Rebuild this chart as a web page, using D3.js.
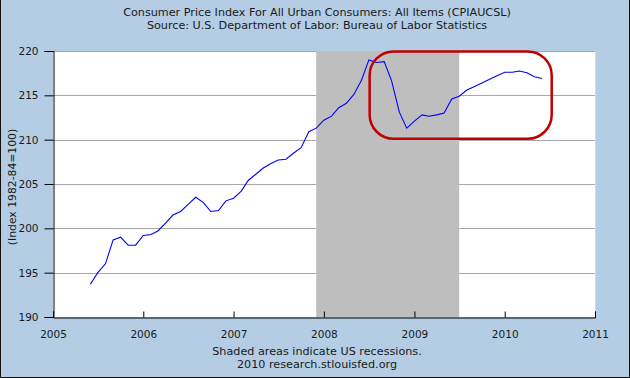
<!DOCTYPE html>
<html>
<head>
<meta charset="utf-8">
<script src="https://cdn.jsdelivr.net/npm/d3@7"></script>
<style>
  html, body { margin: 0; padding: 0; background: #B4CDE4; }
  svg { display: block; }
  text { font-family: "DejaVu Sans", Verdana, sans-serif; fill: #1a1a1a; }
</style>
</head>
<body>
<svg id="chart" width="630" height="378"></svg>
<script>
// ---- data ----
const titleLines = [
  "Consumer Price Index For All Urban Consumers: All Items (CPIAUCSL)",
  "Source: U.S. Department of Labor: Bureau of Labor Statistics"
];
const footerLines = [
  "Shaded areas indicate US recessions.",
  "2010 research.stlouisfed.org"
];
const yAxisLabel = "(Index 1982-84=100)";
const startMonth = "2005-06"; // first monthly observation
const cpiValues = [
  193.7, 195.0, 196.0, 198.7, 199.0, 198.1, 198.1, 199.2, 199.3, 199.7,
  200.6, 201.5, 201.9, 202.7, 203.5, 202.9, 201.9, 202.0, 203.1, 203.4,
  204.2, 205.4, 206.1, 206.8, 207.3, 207.7, 207.8, 208.5, 209.1, 210.9,
  211.3, 212.2, 212.65, 213.6, 214.1, 215.1, 216.7, 219.0, 218.7, 218.8,
  216.6, 213.1, 211.3, 212.1, 212.8, 212.65, 212.8, 213.0, 214.6, 214.9,
  215.6, 216.0, 216.4, 216.8, 217.2, 217.6, 217.6, 217.75, 217.55, 217.1,
  216.9
];
const recessions = [["2007-12-01", "2009-07-01"]];
const xTickYears = [2005, 2006, 2007, 2008, 2009, 2010, 2011];
const yTicks = [190, 195, 200, 205, 210, 215, 220];
// annotation box (in data units: date, index value)
const highlightBox = { from: "2008-07-04", to: "2010-07-10", top: 219.95, bottom: 210.1 };

// ---- chart ----
const W = 630, H = 378;
const M = { left: 53, right: 35, top: 51, bottom: 61 };
const svg = d3.select("#chart");
const parse = d3.timeParse("%Y-%m-%d");
const start = d3.timeParse("%Y-%m")(startMonth);
const data = cpiValues.map((v, i) => ({ date: d3.timeMonth.offset(start, i), value: v }));

const x = d3.scaleTime()
  .domain([new Date(2005, 0, 1), new Date(2011, 0, 1)])
  .range([M.left, W - M.right]);
const y = d3.scaleLinear()
  .domain([190, 220])
  .range([H - M.bottom, M.top]);

// background
svg.append("rect").attr("x", 0).attr("y", 0).attr("width", W).attr("height", H).attr("fill", "#B4CDE4");

// plot area
svg.append("rect")
  .attr("x", M.left).attr("y", M.top)
  .attr("width", W - M.left - M.right).attr("height", H - M.top - M.bottom)
  .attr("fill", "#ffffff");

// gridlines
svg.append("g").selectAll("line").data(yTicks.filter(d => d !== 190)).join("line")
  .attr("x1", M.left).attr("x2", W - M.right)
  .attr("y1", d => Math.round(y(d)) + 0.5).attr("y2", d => Math.round(y(d)) + 0.5)
  .attr("stroke", "#A8A8A8").attr("stroke-width", 1);

// recession shading
svg.append("g").selectAll("rect").data(recessions).join("rect")
  .attr("x", d => x(parse(d[0])))
  .attr("width", d => x(parse(d[1])) - x(parse(d[0])))
  .attr("y", M.top).attr("height", H - M.top - M.bottom)
  .attr("fill", "#BEBEBE");

// right edge thin line
svg.append("line")
  .attr("x1", W - M.right + 0.5).attr("x2", W - M.right + 0.5)
  .attr("y1", M.top).attr("y2", H - M.bottom)
  .attr("stroke", "#D0D8E0").attr("stroke-width", 1);

// data line
const line = d3.line().x(d => x(d.date)).y(d => y(d.value));
svg.append("path").datum(data)
  .attr("d", line)
  .attr("fill", "none")
  .attr("stroke", "#0000FF")
  .attr("stroke-width", 1.1);

// highlight box
const hb = {
  x0: x(parse(highlightBox.from)), x1: x(parse(highlightBox.to)),
  y0: y(highlightBox.top), y1: y(highlightBox.bottom)
};
svg.append("rect")
  .attr("x", hb.x0).attr("y", hb.y0)
  .attr("width", hb.x1 - hb.x0).attr("height", hb.y1 - hb.y0)
  .attr("rx", 24).attr("ry", 24)
  .attr("fill", "none")
  .attr("stroke", "#C00000")
  .attr("stroke-width", 2.5);

// y axis
const yAxis = d3.axisLeft(y).tickValues(yTicks).tickSize(9).tickPadding(6).tickFormat(d3.format("d"));
const gy = svg.append("g").attr("transform", `translate(${M.left + 0.5},0)`).call(yAxis);
gy.select(".domain").attr("stroke", "#000");
gy.selectAll(".tick line").attr("stroke", "#000");
gy.selectAll("text").attr("font-size", "10.5px").attr("font-family", "DejaVu Sans, sans-serif").attr("fill", "#1a1a1a");

// x axis (ticks pointing inward)
const xAxis = d3.axisBottom(x)
  .tickValues(xTickYears.map(yr => new Date(yr, 0, 1)))
  .tickSize(-6).tickPadding(13).tickFormat(d3.timeFormat("%Y"));
const gx = svg.append("g").attr("transform", `translate(0,${H - M.bottom + 0.5})`).call(xAxis);
gx.select(".domain").attr("stroke", "#000");
gx.selectAll(".tick line").attr("stroke", "#000");
gx.selectAll("text").attr("font-size", "10.5px").attr("font-family", "DejaVu Sans, sans-serif").attr("fill", "#1a1a1a");

// y-axis label
svg.append("text")
  .attr("transform", `translate(12,${(M.top + H - M.bottom) / 2 + 3}) rotate(-90)`)
  .attr("text-anchor", "middle").attr("dy", "0.35em")
  .attr("font-size", "10.8px")
  .text(yAxisLabel);

// titles
svg.append("g").selectAll("text").data(titleLines).join("text")
  .attr("x", 317).attr("y", (d, i) => 12.5 + i * 13).attr("dy", "0.35em")
  .attr("text-anchor", "middle").attr("font-size", "11.2px")
  .text(d => d);

// footer
svg.append("g").selectAll("text").data(footerLines).join("text")
  .attr("x", 317).attr("y", (d, i) => 351.5 + i * 13).attr("dy", "0.35em")
  .attr("text-anchor", "middle").attr("font-size", "11.2px")
  .text(d => d);

// outer border (left, right, bottom)
svg.append("path")
  .attr("d", `M0.5,0 V${H - 0.5} H${W - 0.5} V0`)
  .attr("fill", "none").attr("stroke", "#101010").attr("stroke-width", 1);
</script>
</body>
</html>
